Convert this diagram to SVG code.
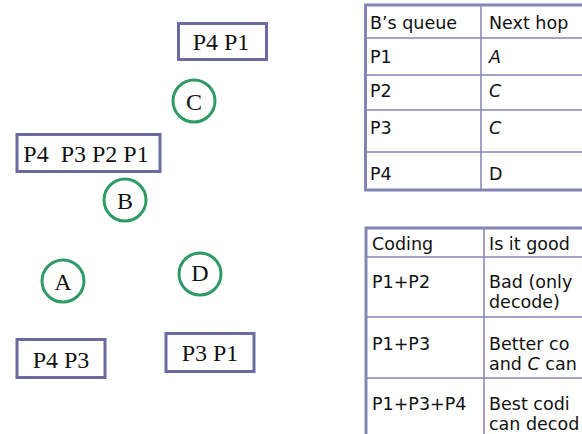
<svg xmlns="http://www.w3.org/2000/svg" width="582" height="434" viewBox="0 0 582 434">
  <style>
    .queue { fill: #ffffff; stroke: #6b6ba3; stroke-width: 3; }
    .node { fill: #ffffff; stroke: #2f9a63; stroke-width: 3; }
    .lbl { font-family: "Liberation Serif", "Times New Roman", serif; font-size: 24px; fill: #111111; text-anchor: middle; }
    .cell { font-family: "DejaVu Sans", "Liberation Sans", sans-serif; font-size: 17.5px; fill: #111111; }
    .outer { fill: none; stroke: #8585b5; stroke-width: 3; }
    .inner { stroke: #8585b5; stroke-width: 1.5; }
  </style>
  <rect width="582" height="434" fill="#ffffff"/>

  <!-- queues and nodes -->
  <g id="queue-c">
    <rect class="queue" x="178.5" y="23.5" width="88" height="36"/>
    <text class="lbl" x="221" y="50">P4 P1</text>
  </g>
  <g id="node-c">
    <circle class="node" cx="194" cy="101" r="21"/>
    <text class="lbl" x="194" y="110">C</text>
  </g>
  <g id="queue-b">
    <rect class="queue" x="17" y="134.5" width="143" height="37"/>
    <text class="lbl" x="86" y="162" xml:space="preserve">P4  P3 P2 P1</text>
  </g>
  <g id="node-b">
    <circle class="node" cx="125" cy="200" r="21"/>
    <text class="lbl" x="125" y="209">B</text>
  </g>
  <g id="node-a">
    <circle class="node" cx="63" cy="281" r="21"/>
    <text class="lbl" x="63" y="290">A</text>
  </g>
  <g id="node-d">
    <circle class="node" cx="200" cy="274" r="21"/>
    <text class="lbl" x="200" y="281">D</text>
  </g>
  <g id="queue-a">
    <rect class="queue" x="17" y="339.5" width="88" height="38"/>
    <text class="lbl" x="61" y="368">P4 P3</text>
  </g>
  <g id="queue-d">
    <rect class="queue" x="166" y="333.5" width="88" height="38"/>
    <text class="lbl" x="210" y="361">P3 P1</text>
  </g>

  <g id="connectors"></g>

  <!-- B's queue / next hop table -->
  <g id="table-queue">
    <line class="inner" x1="365" y1="38" x2="582" y2="38"/>
    <line class="inner" x1="365" y1="75" x2="582" y2="75"/>
    <line class="inner" x1="365" y1="110" x2="582" y2="110"/>
    <line class="inner" x1="365" y1="152" x2="582" y2="152"/>
    <line class="inner" x1="481" y1="5" x2="481" y2="190"/>
    <path class="outer" d="M584 5 H365.5 V190 H584"/>
    <text class="cell" x="370" y="29">B’s queue</text>
    <text class="cell" x="489" y="29">Next hop</text>
    <text class="cell" x="370" y="63">P1</text>
    <text class="cell" x="489" y="63" font-style="italic">A</text>
    <text class="cell" x="370" y="97">P2</text>
    <text class="cell" x="489" y="97" font-style="italic">C</text>
    <text class="cell" x="370" y="134">P3</text>
    <text class="cell" x="489" y="134" font-style="italic">C</text>
    <text class="cell" x="370" y="180">P4</text>
    <text class="cell" x="489" y="180">D</text>
  </g>

  <!-- coding table -->
  <g id="table-coding">
    <line class="inner" x1="366" y1="257" x2="582" y2="257"/>
    <line class="inner" x1="366" y1="317" x2="582" y2="317" stroke-width="2"/>
    <line class="inner" x1="366" y1="378" x2="582" y2="378" stroke-width="2"/>
    <line class="inner" x1="484" y1="228" x2="484" y2="434"/>
    <path class="outer" d="M584 228 H366 V436"/>
    <text class="cell" x="372" y="250">Coding</text>
    <text class="cell" x="489" y="250">Is it good</text>
    <text class="cell" x="372" y="288">P1+P2</text>
    <text class="cell" x="489" y="288">Bad (only</text>
    <text class="cell" x="489" y="308">decode)</text>
    <text class="cell" x="372" y="350">P1+P3</text>
    <text class="cell" x="489" y="350">Better co</text>
    <text class="cell" x="489" y="370">and <tspan font-style="italic">C</tspan> can</text>
    <text class="cell" x="372" y="410">P1+P3+P4</text>
    <text class="cell" x="489" y="410">Best codi</text>
    <text class="cell" x="489" y="430">can decod</text>
  </g>
</svg>
